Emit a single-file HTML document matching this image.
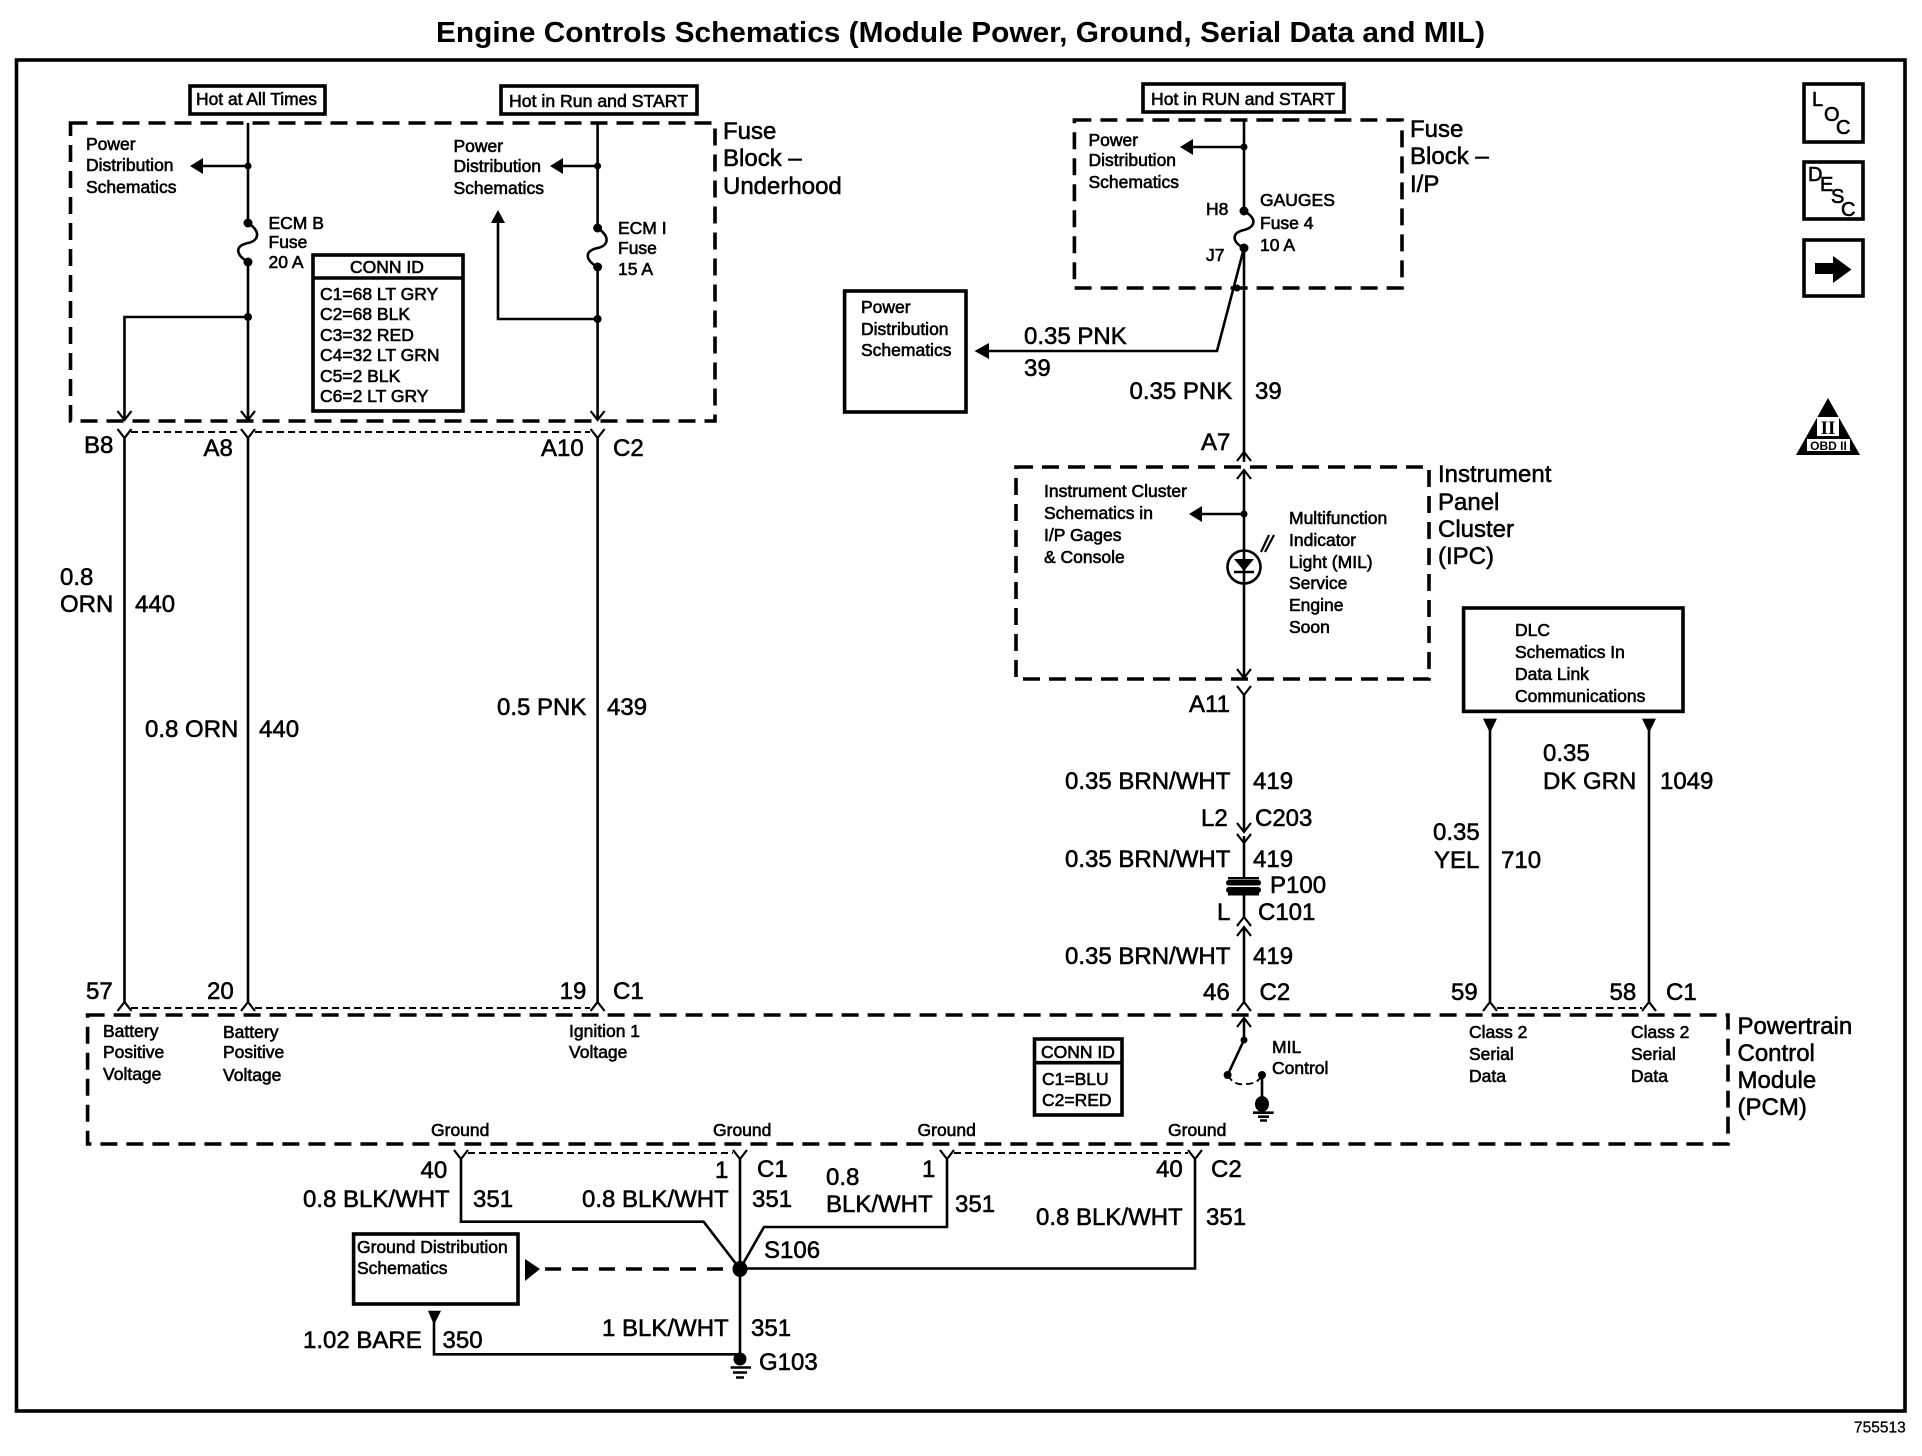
<!DOCTYPE html>
<html><head><meta charset="utf-8"><title>Engine Controls Schematics</title>
<style>
html,body{margin:0;padding:0;background:#fff}
svg{display:block}
text{font-family:"Liberation Sans",sans-serif;fill:#000}
.l{font-size:24px;stroke:#000;stroke-width:.55px}
.s{font-size:17.5px;stroke:#000;stroke-width:.6px}
.g{font-size:20px;stroke:#000;stroke-width:.6px}
.w{fill:none;stroke:#000;stroke-width:2.6}
.b{fill:none;stroke:#000;stroke-width:3.6}
.d{fill:none;stroke:#000;stroke-width:3.6;stroke-dasharray:17 9}
.c{fill:none;stroke:#000;stroke-width:1.9;stroke-dasharray:7 4}
.o{fill:none;stroke:#000;stroke-width:2.2}
</style></head><body>
<svg width="1922" height="1456" viewBox="0 0 1922 1456" xmlns="http://www.w3.org/2000/svg">
<rect width="1922" height="1456" fill="#fff"/>
<text x="436" y="42" font-size="29" font-weight="bold" textLength="1049" lengthAdjust="spacingAndGlyphs">Engine Controls Schematics (Module Power, Ground, Serial Data and MIL)</text>
<rect x="16.5" y="60" width="1888.5" height="1351" class="b"/>

<!-- Fuse block underhood -->
<rect x="190" y="86" width="135" height="28" class="b"/>
<text class="s" x="196" y="105" textLength="121" lengthAdjust="spacingAndGlyphs">Hot at All Times</text>
<rect x="501" y="86" width="196" height="28" class="b"/>
<text class="s" x="509" y="107" textLength="179" lengthAdjust="spacingAndGlyphs">Hot in Run and START</text>
<rect x="70.5" y="123" width="644.5" height="298" class="d"/>
<text class="l" x="723" y="139">Fuse</text><text class="l" x="723" y="166">Block –</text><text class="l" x="723" y="194">Underhood</text>

<path class="w" d="M248 123V223C262 232 258 241 248 243C234 246 236 255 248 262V420M248 166H200M248 317H124.500V420M597.600 123V228C611 237 608 246 597.600 248C584 251 585 260 597.600 267V420M597.600 166H560M597.600 319H498V220"/>
<g>
<circle cx="248" cy="166" r="3.5"/><circle cx="248" cy="223" r="4.5"/><circle cx="248" cy="262" r="4.5"/><circle cx="248" cy="317" r="4"/>
<circle cx="597.6" cy="166" r="3.5"/><circle cx="597.6" cy="228" r="4.5"/><circle cx="597.6" cy="267" r="4.5"/><circle cx="597.6" cy="319" r="4"/>
<path d="M190 166L203 158V174ZM550 166L563 158V174ZM498 210L491 223H505Z"/>
</g>
<path class="o" d="M117.500 411L124.500 420L131.500 411M241 411L248 420L255 411M590.600 411L597.600 420L604.600 411"/>

<text class="s" x="86" y="150">Power</text><text class="s" x="86" y="171">Distribution</text><text class="s" x="86" y="193">Schematics</text>
<text class="s" x="453.500" y="152">Power</text><text class="s" x="453.500" y="172">Distribution</text><text class="s" x="453.500" y="194">Schematics</text>
<text class="s" x="268.500" y="229">ECM B</text><text class="s" x="268.500" y="248">Fuse</text><text class="s" x="268.500" y="268">20 A</text>
<text class="s" x="618" y="234">ECM I</text><text class="s" x="618" y="254">Fuse</text><text class="s" x="618" y="275">15 A</text>

<rect x="313" y="255" width="150" height="156" class="b" fill="#fff"/>
<path class="b" d="M313 278H463"/>
<text class="s" x="387" y="273" text-anchor="middle">CONN ID</text>
<text class="s" x="320" y="300">C1=68 LT GRY</text><text class="s" x="320" y="320">C2=68 BLK</text><text class="s" x="320" y="341">C3=32 RED</text><text class="s" x="320" y="361">C4=32 LT GRN</text><text class="s" x="320" y="382">C5=2 BLK</text><text class="s" x="320" y="402">C6=2 LT GRY</text>

<!-- upper connector row -->
<path class="c" d="M131 432H241M255 432H590"/>
<path class="o" d="M117.500 429L124.500 438L131.500 429M241 429L248 438L255 429M590.600 429L597.600 438L604.600 429"/>
<path class="w" d="M124.500 437V1003M248 437V1003M597.600 437V1003"/>
<text class="l" x="84" y="453">B8</text><text class="l" x="203.500" y="456">A8</text><text class="l" x="541" y="456">A10</text><text class="l" x="613" y="456">C2</text>
<text class="l" x="60" y="585">0.8</text><text class="l" x="60" y="612">ORN</text><text class="l" x="135" y="612">440</text>
<text class="l" x="145" y="737">0.8 ORN</text><text class="l" x="259" y="737">440</text>
<text class="l" x="497" y="715">0.5 PNK</text><text class="l" x="607" y="715">439</text>

<!-- Power distribution box -->
<rect x="844.600" y="291" width="121.400" height="121" class="b"/>
<text class="s" x="861" y="313">Power</text><text class="s" x="861" y="335">Distribution</text><text class="s" x="861" y="356">Schematics</text>

<!-- Fuse block I/P -->
<rect x="1143" y="84" width="201" height="28" class="b"/>
<text class="s" x="1151" y="105" textLength="184" lengthAdjust="spacingAndGlyphs">Hot in RUN and START</text>
<rect x="1074.400" y="120" width="327.600" height="168" class="d"/>
<text class="l" x="1410" y="137">Fuse</text><text class="l" x="1410" y="164">Block –</text><text class="l" x="1410" y="192">I/P</text>
<path class="w" d="M1244 120V211C1258 219 1255 227 1244 230C1231 233 1232 242 1244 248V453M1244 147H1190M1244 248L1217 351H985"/>
<circle cx="1244" cy="147" r="3.500"/><circle cx="1244" cy="211" r="4.500"/><circle cx="1244" cy="248" r="4.500"/><circle cx="1237" cy="288" r="3.500"/>
<path d="M1180 147L1193 139V155ZM974.500 351L989 343V359Z"/>
<text class="s" x="1088.500" y="146">Power</text><text class="s" x="1088.500" y="166">Distribution</text><text class="s" x="1088.500" y="188">Schematics</text>
<text class="s" x="1206" y="215">H8</text><text class="s" x="1206" y="261">J7</text>
<text class="s" x="1260" y="206">GAUGES</text><text class="s" x="1260" y="229">Fuse 4</text><text class="s" x="1260" y="251">10 A</text>
<text class="l" x="1024" y="344">0.35 PNK</text><text class="l" x="1024" y="376">39</text>
<text class="l" x="1129.500" y="399">0.35 PNK</text><text class="l" x="1255" y="399">39</text>
<text class="l" x="1201" y="450">A7</text>

<!-- Side icons -->
<rect x="1804" y="84" width="59" height="58" class="b"/>
<text class="g" x="1812" y="106">L</text><text class="g" x="1824" y="121">O</text><text class="g" x="1836" y="134">C</text>
<rect x="1804" y="162" width="59" height="57" class="b"/>
<text class="g" x="1808" y="181">D</text><text class="g" x="1820" y="191">E</text><text class="g" x="1831" y="203">S</text><text class="g" x="1841" y="216">C</text>
<rect x="1804" y="240" width="59" height="56" class="b"/>
<path d="M1815 263H1833V256L1851.500 269.500L1833 283V274H1815Z"/>
<path d="M1828 398L1796 455H1860Z"/>
<rect x="1817" y="417" width="22" height="19" fill="#fff"/>
<text x="1828" y="434" font-size="19" font-weight="bold" text-anchor="middle" style='font-family:"Liberation Serif",serif'>II</text>
<rect x="1807" y="439" width="43" height="12" fill="#fff"/>
<text x="1828.500" y="450" font-size="12" font-weight="bold" text-anchor="middle">OBD II</text>

<!-- IPC -->
<rect x="1016" y="467" width="413" height="212" class="d"/>
<text class="l" x="1438" y="482">Instrument</text><text class="l" x="1438" y="510">Panel</text><text class="l" x="1438" y="537">Cluster</text><text class="l" x="1438" y="564">(IPC)</text>
<path class="o" d="M1237 461L1244 452L1251 461M1237 479L1244 470L1251 479M1237 669L1244 678L1251 669M1237 686L1244 695L1251 686"/>
<path class="w" d="M1244 453V462M1244 471V677M1244 514H1200"/>
<circle cx="1244" cy="514" r="3.500"/><path d="M1189 514L1202 506V522Z"/>
<circle cx="1244" cy="567" r="16.500" fill="#fff" stroke="#000" stroke-width="2.600"/>
<path d="M1234 559H1254L1244 571Z"/><path class="w" d="M1234 572H1254M1244 550V584"/>
<path class="o" d="M1261 552L1269 535M1265 552L1274 535"/>
<text class="s" x="1044" y="497">Instrument Cluster</text><text class="s" x="1044" y="519">Schematics in</text><text class="s" x="1044" y="541">I/P Gages</text><text class="s" x="1044" y="563">&amp; Console</text>
<text class="s" x="1289" y="524">Multifunction</text><text class="s" x="1289" y="546">Indicator</text><text class="s" x="1289" y="568">Light (MIL)</text><text class="s" x="1289" y="589">Service</text><text class="s" x="1289" y="611">Engine</text><text class="s" x="1289" y="633">Soon</text>

<!-- main lower wire -->
<path class="w" d="M1244 694V831M1244 836V878M1244 893V918M1244 927V1003"/>
<path class="o" d="M1237 823L1244 832L1251 823M1237 834L1244 843L1251 834M1237 926L1244 917L1251 926M1237 936L1244 927L1251 936"/>
<rect x="1228" y="877" width="31" height="2.500"/>
<rect x="1226" y="880" width="35" height="5.500" rx="2.700"/><rect x="1226" y="887" width="35" height="6" rx="3"/><rect x="1228" y="893" width="31" height="2.500"/>
<text class="l" x="1189" y="712">A11</text>
<text class="l" x="1065" y="789">0.35 BRN/WHT</text><text class="l" x="1253" y="789">419</text>
<text class="l" x="1201" y="826">L2</text><text class="l" x="1255" y="826">C203</text>
<text class="l" x="1065" y="867">0.35 BRN/WHT</text><text class="l" x="1253" y="867">419</text>
<text class="l" x="1270" y="893">P100</text>
<text class="l" x="1217" y="920">L</text><text class="l" x="1258" y="920">C101</text>
<text class="l" x="1065" y="964">0.35 BRN/WHT</text><text class="l" x="1253" y="964">419</text>
<text class="l" x="1203" y="1000">46</text><text class="l" x="1259.500" y="1000">C2</text>

<!-- DLC -->
<rect x="1463.600" y="608" width="219.400" height="103.400" class="b"/>
<text class="s" x="1515" y="636">DLC</text><text class="s" x="1515" y="658">Schematics In</text><text class="s" x="1515" y="680">Data Link</text><text class="s" x="1515" y="702">Communications</text>
<path class="w" d="M1490 725V1003M1649 725V1003"/>
<path d="M1483 718.600H1497L1490 733ZM1642 718.600H1656L1649 733Z"/>
<text class="l" x="1433" y="840">0.35</text><text class="l" x="1434" y="868">YEL</text><text class="l" x="1501" y="868">710</text>
<text class="l" x="1543" y="761">0.35</text><text class="l" x="1543" y="789">DK GRN</text><text class="l" x="1660" y="789">1049</text>
<text class="l" x="1451" y="1000">59</text><text class="l" x="1609.500" y="1000">58</text><text class="l" x="1666" y="1000">C1</text>

<!-- PCM -->
<rect x="87.600" y="1015" width="1640.400" height="129" class="d"/>
<text class="l" x="1737.500" y="1034">Powertrain</text><text class="l" x="1737.500" y="1061">Control</text><text class="l" x="1737.500" y="1088">Module</text><text class="l" x="1737.500" y="1115">(PCM)</text>
<path class="c" d="M131 1008H241M255 1008H590M1497 1008H1642"/>
<path class="o" d="M117.500 1011L124.500 1002L131.500 1011M241 1011L248 1002L255 1011M590.600 1011L597.600 1002L604.600 1011M1237 1011L1244 1002L1251 1011M1483 1011L1490 1002L1497 1011M1642 1011L1649 1002L1656 1011M1237 1027L1244 1018L1251 1027"/>
<text class="l" x="86" y="999">57</text><text class="l" x="207" y="999">20</text><text class="l" x="559.600" y="999">19</text><text class="l" x="613" y="999">C1</text>
<text class="s" x="103" y="1037">Battery</text><text class="s" x="103" y="1058">Positive</text><text class="s" x="103" y="1080">Voltage</text>
<text class="s" x="223" y="1038">Battery</text><text class="s" x="223" y="1058">Positive</text><text class="s" x="223" y="1081">Voltage</text>
<text class="s" x="569" y="1037">Ignition 1</text><text class="s" x="569" y="1058">Voltage</text>
<text class="s" x="1469" y="1038">Class 2</text><text class="s" x="1469" y="1060">Serial</text><text class="s" x="1469" y="1082">Data</text>
<text class="s" x="1631" y="1038">Class 2</text><text class="s" x="1631" y="1060">Serial</text><text class="s" x="1631" y="1082">Data</text>
<rect x="1034.500" y="1039" width="87.500" height="76" class="b"/><path class="b" d="M1034.500 1062.700H1122"/>
<text class="s" x="1078" y="1058" text-anchor="middle">CONN ID</text><text class="s" x="1042" y="1085">C1=BLU</text><text class="s" x="1042" y="1106">C2=RED</text>
<path class="w" d="M1244 1019V1040L1227.600 1075M1262 1075V1105"/>
<path class="c" d="M1228 1075Q1233 1086 1246 1084Q1258 1084 1262 1075" stroke-dasharray="4 3"/>
<circle cx="1244" cy="1040" r="3.500"/><circle cx="1227.600" cy="1075" r="4"/><circle cx="1262" cy="1075" r="4"/>
<ellipse cx="1262" cy="1104" rx="7" ry="8"/>
<path class="w" d="M1253 1112.700H1273.600M1258 1116.700H1269M1260 1120.500H1267"/>
<text class="s" x="1272" y="1053">MIL</text><text class="s" x="1272" y="1074">Control</text>
<text class="s" x="431" y="1136">Ground</text><text class="s" x="713" y="1136">Ground</text><text class="s" x="917.500" y="1136">Ground</text><text class="s" x="1168" y="1136">Ground</text>

<!-- ground wiring -->
<path class="c" d="M468 1153H733M954 1153H1188"/>
<path class="o" d="M454 1150L461 1159L468 1150M733 1150L740 1159L747 1150M940 1150L947 1159L954 1150M1188 1150L1195 1159L1202 1150"/>
<path class="w" d="M461 1158V1221.700H703.600L740 1269M740 1158V1354M947 1158V1227H764L740 1269M1195 1158V1268.500H740M740 1354.300H434V1318"/>
<path class="b" d="M545 1269H732" stroke-dasharray="16 11" style="stroke-dasharray:16 11"/>
<path d="M525 1259L540 1269L525 1281ZM428 1310.700H441L434 1325Z"/>
<ellipse cx="740" cy="1269" rx="7.500" ry="8"/>
<rect x="353.600" y="1234" width="164.400" height="70" class="b"/>
<text class="s" x="357" y="1253">Ground Distribution</text><text class="s" x="357" y="1274">Schematics</text>
<text class="l" x="420.500" y="1178">40</text><text class="l" x="715" y="1178">1</text><text class="l" x="757" y="1177">C1</text>
<text class="l" x="826" y="1185">0.8</text><text class="l" x="826" y="1212">BLK/WHT</text><text class="l" x="922" y="1177">1</text><text class="l" x="955" y="1212">351</text>
<text class="l" x="1156" y="1177">40</text><text class="l" x="1211" y="1177">C2</text>
<text class="l" x="303" y="1207">0.8 BLK/WHT</text><text class="l" x="473" y="1207">351</text>
<text class="l" x="582" y="1207">0.8 BLK/WHT</text><text class="l" x="752" y="1207">351</text>
<text class="l" x="1036" y="1225">0.8 BLK/WHT</text><text class="l" x="1206" y="1225">351</text>
<text class="l" x="764" y="1258">S106</text>
<text class="l" x="303" y="1348">1.02 BARE</text><text class="l" x="442.500" y="1348">350</text>
<text class="l" x="602" y="1336">1 BLK/WHT</text><text class="l" x="751" y="1336">351</text>
<text class="l" x="759" y="1370">G103</text>
<circle cx="740" cy="1359" r="6.500"/>
<path class="w" d="M730.600 1367.500H751M733 1372.500H747M736 1377.500H744"/>

<text x="1854" y="1432.700" font-size="15.500" stroke="#000" stroke-width=".3">755513</text>
</svg>
</body></html>
